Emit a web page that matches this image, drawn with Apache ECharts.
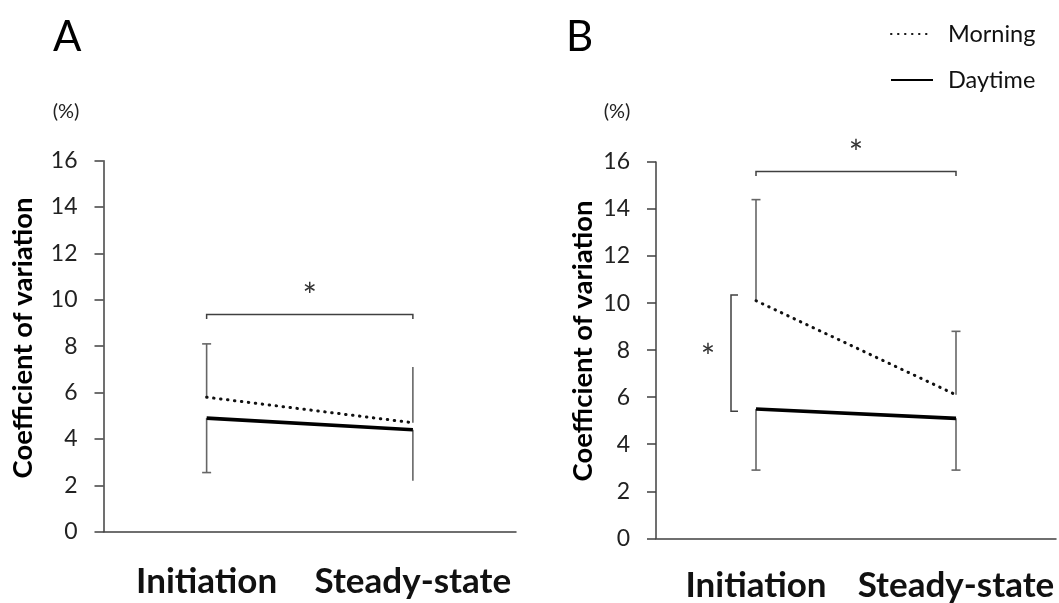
<!DOCTYPE html>
<html>
<head>
<meta charset="utf-8">
<script src="https://cdn.jsdelivr.net/npm/echarts@6/dist/echarts.min.js"></script>
<style>
  html, body { margin: 0; padding: 0; background: #fff; }
  #chart { width: 1059px; height: 603px; }
</style>
</head>
<body>
<div id="chart"></div>
<script>
// categories and tick settings
const categories = ['Initiation', 'Steady-state'];
const yMin = 0, yMax = 16, yStep = 2;

// panel A
const morningA = [5.8, 4.7];
const daytimeA = [4.9, 4.4];
const morningUpperA = [8.1, 7.1];   // mean + SD
const daytimeLowerA = [2.55, 2.2];  // mean - SD
const capsA = [true, false];
const bracketA = [9.37, 9.17];      // top, end of bracket legs

// panel B
const morningB = [10.1, 6.1];
const daytimeB = [5.5, 5.1];
const morningUpperB = [14.4, 8.8];
const daytimeLowerB = [2.9, 2.9];
const capsB = [true, true];
const bracketB = [15.6, 15.4];
const vBracketB = [10.35, 5.4];     // Morning vs Daytime at initiation

const FONT = 'Lato';
const AXIS = '#404040';
const ERR = '#666';

let chart = echarts.init(document.getElementById('chart'));

// error bar: line from mean to limit, optional cap at the limit
function errorBars(caps) {
  return function (params, api) {
    const i = api.value(0);
    const a = api.coord([i, api.value(1)]);
    const b = api.coord([i, api.value(2)]);
    const children = [{
      type: 'line',
      shape: { x1: a[0], y1: a[1], x2: b[0], y2: b[1] },
      style: { stroke: ERR, lineWidth: 1.6 }
    }];
    if (caps[params.dataIndex]) {
      children.push({
        type: 'line',
        shape: { x1: b[0] - 4.5, y1: b[1], x2: b[0] + 4.5, y2: b[1] },
        style: { stroke: ERR, lineWidth: 1.6 }
      });
    }
    return { type: 'group', children: children };
  };
}

function star(x, y) {
  return {
    type: 'text', x: x, y: y,
    style: { text: '*', font: '34px ' + FONT, fill: '#333', align: 'center', verticalAlign: 'middle' }
  };
}

// horizontal bracket across both categories with an asterisk on top
function hBracket(params, api) {
  const top = api.value(1), end = api.value(2);
  const p0 = api.coord([0, end]), p1 = api.coord([0, top]);
  const p2 = api.coord([1, top]), p3 = api.coord([1, end]);
  return {
    type: 'group',
    children: [{
      type: 'polyline',
      shape: { points: [p0, p1, p2, p3] },
      style: { stroke: AXIS, lineWidth: 1.5, fill: null }
    }, star((p1[0] + p2[0]) / 2, p1[1] - 17)]
  };
}

// vertical bracket left of the initiation point
function vBracket(params, api) {
  const t = api.coord([0, api.value(1)]), b = api.coord([0, api.value(2)]);
  const x = t[0] - 25;
  return {
    type: 'group',
    children: [{
      type: 'polyline',
      shape: { points: [[x + 7, t[1]], [x, t[1]], [x, b[1]], [x + 7, b[1]]] },
      style: { stroke: AXIS, lineWidth: 1.5, fill: null }
    }, star(x - 23, (t[1] + b[1]) / 2 + 5)]
  };
}

function xAxisFor(idx, margin) {
  return {
    type: 'category', gridIndex: idx, data: categories, boundaryGap: true,
    axisLine: { lineStyle: { color: AXIS, width: 1.5 } },
    axisTick: { show: false },
    axisLabel: { interval: 0, hideOverlap: false, color: '#111', fontFamily: FONT, fontWeight: 'bold', fontSize: 35, margin: margin }
  };
}
function yAxisFor(idx) {
  return {
    type: 'value', gridIndex: idx, min: yMin, max: yMax, interval: yStep,
    splitLine: { show: false },
    axisLine: { show: true, lineStyle: { color: AXIS, width: 1.5 } },
    axisTick: { show: true, length: 9, lineStyle: { color: AXIS, width: 1.5 } },
    axisLabel: { color: '#222', fontFamily: FONT, fontSize: 23, margin: 26 }
  };
}

const morningStyle = { color: '#111', width: 3, type: [0.5, 6.5], cap: 'round' };
const daytimeStyle = { color: '#000', width: 3.6, type: 'solid' };
const markColor = { color: '#000' };

function pair(arr, lim) { return arr.map((v, i) => [i, v, lim[i]]); }

chart.setOption({
  animation: false,
  backgroundColor: '#fff',
  grid: [
    { left: 103.5, top: 160.7, right: 543, bottom: 71.3, outerBoundsMode: 'none', containLabel: false },
    { left: 656, top: 162, right: 3, bottom: 64.7, outerBoundsMode: 'none', containLabel: false }
  ],
  xAxis: [xAxisFor(0, 33), xAxisFor(1, 30)],
  yAxis: [yAxisFor(0), yAxisFor(1)],
  legend: {
    orient: 'vertical', left: 885, top: 17, itemWidth: 42, itemHeight: 12, itemGap: 22,
    itemStyle: { opacity: 0 },
    data: ['Morning', 'Daytime'],
    textStyle: { fontFamily: FONT, fontSize: 23.5, color: '#111', padding: [0, 0, 0, 10] }
  },
  graphic: [
    { type: 'text', left: 53, top: 16, style: { text: 'A', font: '42px ' + FONT, fill: '#000' } },
    { type: 'text', left: 566, top: 16, style: { text: 'B', font: '42px ' + FONT, fill: '#000' } },
    { type: 'text', x: 66, y: 112, style: { text: '(%)', font: '20px ' + FONT, fill: '#222', align: 'center', verticalAlign: 'middle' } },
    { type: 'text', x: 617, y: 112, style: { text: '(%)', font: '20px ' + FONT, fill: '#222', align: 'center', verticalAlign: 'middle' } },
    { type: 'text', x: 23, y: 338, rotation: Math.PI / 2,
      style: { text: 'Coefficient of variation', font: 'bold 27.5px ' + FONT, fill: '#000', align: 'center', verticalAlign: 'middle' } },
    { type: 'text', x: 583, y: 341, rotation: Math.PI / 2,
      style: { text: 'Coefficient of variation', font: 'bold 27.5px ' + FONT, fill: '#000', align: 'center', verticalAlign: 'middle' } }
  ],
  series: [
    { name: 'Morning', type: 'line', xAxisIndex: 0, yAxisIndex: 0, data: morningA, symbol: 'none', itemStyle: markColor, lineStyle: morningStyle, z: 3 },
    { name: 'Daytime', type: 'line', xAxisIndex: 0, yAxisIndex: 0, data: daytimeA, symbol: 'none', itemStyle: markColor, lineStyle: daytimeStyle, z: 3 },
    { name: 'Morning', type: 'line', xAxisIndex: 1, yAxisIndex: 1, data: morningB, symbol: 'none', itemStyle: markColor, lineStyle: morningStyle, z: 3 },
    { name: 'Daytime', type: 'line', xAxisIndex: 1, yAxisIndex: 1, data: daytimeB, symbol: 'none', itemStyle: markColor, lineStyle: daytimeStyle, z: 3 },

    { type: 'custom', xAxisIndex: 0, yAxisIndex: 0, renderItem: errorBars(capsA), data: pair(morningA, morningUpperA), z: 2 },
    { type: 'custom', xAxisIndex: 0, yAxisIndex: 0, renderItem: errorBars(capsA), data: pair(daytimeA, daytimeLowerA), z: 2 },
    { type: 'custom', xAxisIndex: 1, yAxisIndex: 1, renderItem: errorBars(capsB), data: pair(morningB, morningUpperB), z: 2 },
    { type: 'custom', xAxisIndex: 1, yAxisIndex: 1, renderItem: errorBars(capsB), data: pair(daytimeB, daytimeLowerB), z: 2 },

    { type: 'custom', xAxisIndex: 0, yAxisIndex: 0, renderItem: hBracket, data: [[0, bracketA[0], bracketA[1]]], clip: false },
    { type: 'custom', xAxisIndex: 1, yAxisIndex: 1, renderItem: hBracket, data: [[0, bracketB[0], bracketB[1]]], clip: false },
    { type: 'custom', xAxisIndex: 1, yAxisIndex: 1, renderItem: vBracket, data: [[0, vBracketB[0], vBracketB[1]]], clip: false }
  ]
});
</script>
</body>
</html>
